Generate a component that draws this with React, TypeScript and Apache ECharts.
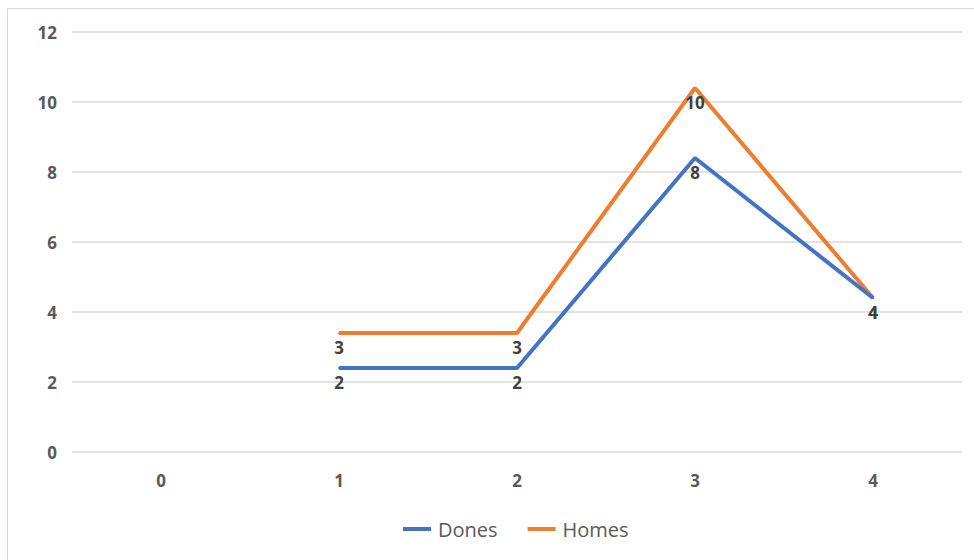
import React, { useEffect, useRef } from "react";
import * as echarts from "echarts";

const categories = ["0", "1", "2", "3", "4"];
const dones = [null, 2.4, 2.4, 8.4, 4.4];
const homes = [null, 3.4, 3.4, 10.4, 4.4];
const seriesNames = ["Dones", "Homes"];

export default function App() {
  const ref = useRef<HTMLDivElement>(null);
  useEffect(() => {
    const chart = echarts.init(ref.current!, undefined, { renderer: "svg" });
    const font = "'Open Sans', 'Liberation Sans', sans-serif";
    const labelCfg = {
      show: true,
      position: "bottom",
      distance: 5,
      color: "#404040",
      fontSize: 17,
      fontWeight: "bold",
      fontFamily: font,
      formatter: (p: any) => String(Math.round(p.value)),
    };
    chart.setOption({
      animation: false,
      backgroundColor: "#ffffff",
      color: ["#4472C4", "#ED7D31"],
      graphic: [
        {
          type: "rect",
          shape: { x: 7.5, y: 8.5, width: 1000, height: 600 },
          style: { fill: "none", stroke: "#d9d9d9", lineWidth: 1 },
          silent: true,
        },
      ],
      grid: { left: 72, right: 12, top: 32, bottom: 108 },
      legend: {
        bottom: 16,
        left: 398,
        icon: "rect",
        itemWidth: 28,
        itemHeight: 4,
        itemGap: 30,
        textStyle: { color: "#595959", fontSize: 20, fontFamily: font, padding: [0, 0, 0, 2], letterSpacing: 0.5 },
        data: seriesNames,
      },
      xAxis: {
        type: "category",
        data: categories,
        boundaryGap: true,
        axisLine: { show: false },
        axisTick: { show: false },
        axisLabel: { color: "#595959", fontSize: 17, fontWeight: "bold", fontFamily: font, margin: 20 },
      },
      yAxis: {
        type: "value",
        min: 0,
        max: 12,
        interval: 2,
        axisLine: { show: false },
        axisTick: { show: false },
        splitLine: { lineStyle: { color: "#d9d9d9", width: 1.5 } },
        axisLabel: { color: "#595959", fontSize: 17, fontWeight: "bold", fontFamily: font, margin: 15 },
      },
      series: [
        {
          name: seriesNames[0],
          type: "line",
          data: dones,
          symbol: "circle",
          symbolSize: 2,
          showSymbol: true,
          itemStyle: { color: "#4472C4" },
          lineStyle: { width: 4, color: "#4472C4" },
          label: labelCfg,
          z: 3,
        },
        {
          name: seriesNames[1],
          type: "line",
          data: homes,
          symbol: "circle",
          symbolSize: 2,
          showSymbol: true,
          itemStyle: { color: "#ED7D31" },
          lineStyle: { width: 4, color: "#ED7D31" },
          label: labelCfg,
          z: 2,
        },
      ],
    });
    return () => chart.dispose();
  }, []);
  return (
    <div
      ref={ref}
      style={{ position: "fixed", left: 0, top: 0, width: 974, height: 560 }}
    />
  );
}
